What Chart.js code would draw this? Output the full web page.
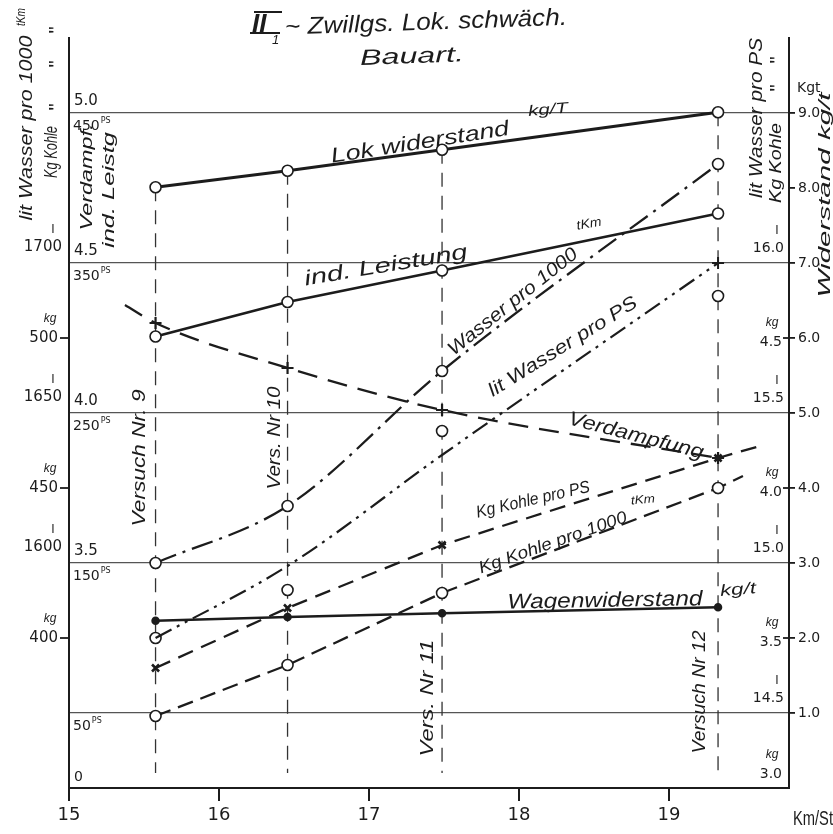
<!DOCTYPE html>
<html>
<head>
<meta charset="utf-8">
<script src="https://cdn.jsdelivr.net/npm/chart.js@4.4.1/dist/chart.umd.min.js"></script>
<style>
  html, body { margin: 0; padding: 0; background: #fff; }
  canvas { display: block; }
</style>
</head>
<body>
<canvas id="chart" width="833" height="834"></canvas>
<script>
/* =======================
   DATA
======================= */

const xTicks = [15, 16, 17, 18, 19];                 // Km/St
const versuchX = [15.577, 16.457, 17.487, 19.327];   // Versuch Nr 9 .. 12
const versuchNames = ["Versuch Nr. 9", "Vers. Nr 10", "Vers. Nr 11", "Versuch Nr 12"];

const lokWiderstand = [8.01, 8.23, 8.51, 9.01];       // kg/t
const wagenWiderstand = [2.23, 2.28, 2.33, 2.41];     // kg/t
const indLeistung = [301, 324, 345, 383];             // PS
const wasser1000 = [1600, 1619, 1664, 1733];          // l pro 1000 tKm
const wasserPsLine = [14.75, 14.99, 15.36, 16.0];     // l pro PS (Ausgleich)
const wasserPsMess = [14.75, 14.91, 15.44, 15.89];    // l pro PS (gemessen)
const verdampfX = [15.373, 15.577, 16.457, 17.487, 19.327];
const verdampfung = [4.36, 4.30, 4.15, 4.01, 3.85];   // kg Wasser / kg Kohle
const kohlePsX = [15.577, 16.457, 17.487, 19.327, 19.607];
const kohlePs = [3.40, 3.60, 3.81, 4.10, 4.14];       // kg pro PS
const kohle1000X = [15.577, 16.457, 17.487, 19.327, 19.493];
const kohle1000 = [374, 391, 415, 450, 454];          // kg pro 1000 tKm

// scale labels
const psLabels = [450, 350, 250, 150, 50];
const verdLabels = [5.0, 4.5, 4.0, 3.5];
const wasser1000Labels = [1700, 1650, 1600];
const kohle1000Labels = [500, 450, 400];
const wasserPsLabels = [16.0, 15.5, 15.0, 14.5];
const kohlePsLabels = [4.5, 4.0, 3.5, 3.0];
const widerstandTicks = [1, 2, 3, 4, 5, 6, 7, 8, 9];

/* =======================
   HELPERS
======================= */

const INK = "#1c1c1c";
const NUM = '"DejaVu Sans", sans-serif';
const HAND = '"Liberation Sans", sans-serif';

function pts(xs, ys) {
  return xs.map((x, i) => ({ x, y: ys[i] }));
}

// handwritten-ish label, squeezed/stretched to width w
function hand(ctx, s, cx, cy, w, size, rot, style, align) {
  ctx.save();
  ctx.font = (style || "italic") + " " + size + "px " + HAND;
  const m = ctx.measureText(s).width;
  ctx.translate(cx, cy);
  ctx.rotate((rot || 0) * Math.PI / 180);
  if (w) ctx.scale(w / m, 1);
  ctx.textAlign = align || "center";
  ctx.textBaseline = "middle";
  ctx.fillStyle = INK;
  ctx.fillText(s, 0, 0);
  ctx.restore();
}

function num(ctx, s, x, y, size, align) {
  ctx.save();
  ctx.font = size + "px " + NUM;
  ctx.textAlign = align || "left";
  ctx.textBaseline = "middle";
  ctx.fillStyle = INK;
  ctx.fillText(s, x, y);
  const w = ctx.measureText(s).width;
  ctx.restore();
  return w;
}

function dash(ctx, x1, x2, y) {
  ctx.save();
  ctx.strokeStyle = INK;
  ctx.lineWidth = 1.8;
  ctx.beginPath(); ctx.moveTo(x1, y); ctx.lineTo(x2, y); ctx.stroke();
  ctx.restore();
}

/* =======================
   TEXT PLUGIN
======================= */

const inkPlugin = {
  id: "ink",
  beforeDraw(chart) {
    const ctx = chart.ctx;
    ctx.save();
    ctx.fillStyle = "#fff";
    ctx.fillRect(0, 0, chart.width, chart.height);
    ctx.restore();
  },
  afterDraw(chart) {
    const ctx = chart.ctx;
    const s = chart.scales;

    // title
    ctx.save();
    ctx.font = "italic bold 26px " + HAND;
    ctx.fillStyle = INK;
    ctx.textBaseline = "alphabetic";
    ctx.fillText("II", 252, 32);
    ctx.fillRect(250, 32, 30, 2);
    ctx.fillRect(254, 11, 28, 2);
    ctx.font = "italic 13px " + HAND;
    ctx.fillText("1", 272, 44);
    ctx.restore();
    hand(ctx, "~ Zwillgs. Lok. schwäch.", 426, 23, 282, 24, -2);
    hand(ctx, "Bauart.", 412, 57, 104, 22, -2);

    // labels along the curves
    hand(ctx, "Lok widerstand", 420, 143, 180, 21, -9);
    hand(ctx, "kg/T", 548, 110, 40, 15, -5);
    hand(ctx, "ind. Leistung", 386, 266, 165, 21, -9.5);
    hand(ctx, "Wasser pro 1000", 513, 302, 160, 19, -38.5);
    hand(ctx, "tKm", 589, 224, 25, 13, -10);
    hand(ctx, "lit Wasser pro PS", 563, 347, 172, 19, -32);
    hand(ctx, "Verdampfung", 636, 436, 139, 20, 14.5);
    hand(ctx, "Kg Kohle pro PS", 533, 500, 116, 17, -13);
    hand(ctx, "Kg Kohle pro 1000", 553, 543, 156, 17, -19.5);
    hand(ctx, "tKm", 643, 500, 24, 12, -5);
    hand(ctx, "Wagenwiderstand", 605, 601, 195, 21, -1);
    hand(ctx, "kg/t", 738, 590, 36, 16, -5);

    // Versuch labels beside the dashed verticals
    const vPos = [[140, 458, 137], [275, 438, 103], [428, 698, 117], [700, 692, 123]];
    versuchNames.forEach((n, i) => {
      hand(ctx, n, vPos[i][0], vPos[i][1], vPos[i][2], 18, -90);
    });

    // left side headings
    hand(ctx, "lit Wasser pro 1000", 27, 128, 185, 19, -90);
    hand(ctx, "tKm", 22, 17, 18, 12, -90);
    hand(ctx, "Kg Kohle", 52, 152, 52, 18, -90);
    [30, 64, 107].forEach(y => hand(ctx, "\"", 57, y, 0, 20, -90, "normal"));
    hand(ctx, "Verdampf.", 88, 177, 107, 16, -90);
    hand(ctx, "ind. Leistg", 110, 190, 116, 16, -90);

    // right side headings
    hand(ctx, "lit Wasser pro PS", 757, 118, 160, 18, -90);
    hand(ctx, "Kg Kohle", 777, 163, 80, 16, -90);
    [60, 88].forEach(y => hand(ctx, "\"", 778, y, 0, 20, -90, "normal"));
    num(ctx, "Kgt", 797, 88, 14);
    hand(ctx, "Widerstand kg/t", 825, 195, 205, 17, -90);
    hand(ctx, "Km/St", 813, 819, 40, 20, 0, "normal");

    // left inner scales: Verdampfung and PS
    verdLabels.forEach(v => {
      num(ctx, v.toFixed(1), 74, s.yVerd.getPixelForValue(v) - 12, 15);
    });
    psLabels.forEach(v => {
      const y = s.yPS.getPixelForValue(v) + 13;
      const w = num(ctx, String(v), 73, y, 14);
      num(ctx, "PS", 74 + w, y - 5, 8);
    });
    num(ctx, "0", 74, s.yPS.getPixelForValue(0) - 11, 14);

    // left outer scales: Wasser (l) and Kohle (kg) pro 1000 tKm
    wasser1000Labels.forEach(v => {
      const y = s.yWasser1000.getPixelForValue(v);
      num(ctx, String(v), 62, y - 16, 15, "right");
      hand(ctx, "l", 53, y - 34, 0, 13, 0, "normal");
    });
    kohle1000Labels.forEach(v => {
      const y = s.yKohle1000.getPixelForValue(v);
      num(ctx, String(v), 58, y, 15, "right");
      hand(ctx, "kg", 50, y - 19, 0, 12, 0, "italic");
      dash(ctx, 60, 70, y);
    });

    // right inner scales: Wasser (l) and Kohle (kg) pro PS
    wasserPsLabels.forEach(v => {
      const y = s.yWasserPS.getPixelForValue(v);
      num(ctx, v.toFixed(1), 784, y - 15, 14, "right");
      hand(ctx, "l", 777, y - 33, 0, 13, 0, "normal");
    });
    kohlePsLabels.forEach(v => {
      const y = s.yKohlePS.getPixelForValue(v);
      const ly = v === 3.0 ? y - 14 : y + 4;
      num(ctx, v.toFixed(1), 782, ly, 14, "right");
      hand(ctx, "kg", 772, ly - 19, 0, 12, 0, "italic");
      if (v !== 3.0) dash(ctx, 783, 790, y);
    });
  }
};

/* =======================
   DATASETS
======================= */

const circle = {
  pointStyle: "circle",
  pointRadius: 5.5,
  pointBackgroundColor: "#fff",
  pointBorderColor: INK,
  pointBorderWidth: 1.6
};

const versuchLines = versuchX.map((x, i) => ({
  data: [{ x, y: lokWiderstand[i] }, { x, y: 0.2 }],
  yAxisID: "yW",
  borderColor: "#333",
  borderWidth: 1.3,
  borderDash: [14, 9],
  pointRadius: 0,
  order: 20
}));

const datasets = [
  {
    label: "Lok widerstand",
    data: pts(versuchX, lokWiderstand),
    yAxisID: "yW",
    borderColor: INK, borderWidth: 2.8,
    ...circle
  },
  {
    label: "ind. Leistung",
    data: pts(versuchX, indLeistung),
    yAxisID: "yPS",
    borderColor: INK, borderWidth: 2.8,
    ...circle
  },
  {
    label: "Wasser pro 1000 tKm",
    data: pts(versuchX, wasser1000),
    yAxisID: "yWasser1000",
    borderColor: INK, borderWidth: 2.3,
    borderDash: [22, 7, 3, 7],
    cubicInterpolationMode: "monotone",
    ...circle
  },
  {
    label: "lit Wasser pro PS",
    data: pts(versuchX, wasserPsLine),
    yAxisID: "yWasserPS",
    borderColor: INK, borderWidth: 2.2,
    borderDash: [18, 6, 3, 6, 3, 6],
    cubicInterpolationMode: "monotone",
    pointStyle: "cross",
    pointRadius: [0, 0, 0, 6],
    pointBorderColor: INK,
    pointBorderWidth: 2
  },
  {
    label: "lit Wasser pro PS gemessen",
    data: pts(versuchX, wasserPsMess),
    yAxisID: "yWasserPS",
    showLine: false,
    ...circle
  },
  {
    label: "Verdampfung",
    data: pts(verdampfX, verdampfung),
    yAxisID: "yVerd",
    borderColor: INK, borderWidth: 2.3,
    borderDash: [20, 11],
    cubicInterpolationMode: "monotone",
    pointStyle: "cross",
    pointRadius: [0, 6, 6, 6, 6],
    pointBorderColor: INK,
    pointBorderWidth: 2.2
  },
  {
    label: "Kg Kohle pro PS",
    data: pts(kohlePsX, kohlePs),
    yAxisID: "yKohlePS",
    borderColor: INK, borderWidth: 2.3,
    borderDash: [16, 9],
    pointStyle: "crossRot",
    pointRadius: [5, 5, 5, 5, 0],
    pointBorderColor: INK,
    pointBorderWidth: 2.6
  },
  {
    label: "Kg Kohle pro 1000 tKm",
    data: pts(kohle1000X, kohle1000),
    yAxisID: "yKohle1000",
    borderColor: INK, borderWidth: 2.3,
    borderDash: [16, 8],
    ...circle,
    pointRadius: [5.5, 5.5, 5.5, 5.5, 0]
  },
  {
    label: "Wagenwiderstand",
    data: pts(versuchX, wagenWiderstand),
    yAxisID: "yW",
    borderColor: INK, borderWidth: 2.5,
    pointStyle: "circle",
    pointRadius: 3,
    pointBackgroundColor: INK,
    pointBorderColor: INK
  },
  ...versuchLines
];

/* =======================
   CHART
======================= */

const hidden = (min, max) => ({ type: "linear", display: false, min, max });

new Chart(document.getElementById("chart"), {
  type: "line",
  data: { datasets },
  plugins: [inkPlugin],
  options: {
    responsive: false,
    animation: false,
    layout: { padding: { top: 38, left: 0, right: 0, bottom: 0 } },
    plugins: { legend: { display: false }, tooltip: { enabled: false } },
    scales: {
      x: {
        type: "linear",
        min: 15, max: 19.8,
        afterBuildTicks: sc => { sc.ticks = xTicks.map(v => ({ value: v })); },
        afterFit: sc => { sc.height = 46; },
        ticks: { color: INK, font: { family: NUM, size: 18 }, padding: 4 },
        grid: { drawOnChartArea: false, drawTicks: true, tickLength: 13, color: INK, lineWidth: 2 },
        border: { display: true, color: INK, width: 2 }
      },
      yPS: {
        type: "linear",
        position: "left",
        min: 0, max: 500,
        afterBuildTicks: sc => { sc.ticks = [0, 50, 150, 250, 350, 450].map(v => ({ value: v })); },
        afterFit: sc => { sc.width = 69; },
        ticks: { display: false },
        grid: { drawTicks: false, color: "#555", lineWidth: 1.3 },
        border: { display: true, color: INK, width: 2 }
      },
      yW: {
        type: "linear",
        position: "right",
        min: 0, max: 10,
        afterBuildTicks: sc => { sc.ticks = widerstandTicks.map(v => ({ value: v })); },
        afterFit: sc => { sc.width = 44; },
        ticks: {
          color: INK, font: { family: NUM, size: 14 }, padding: 3,
          callback: v => v.toFixed(1)
        },
        grid: { drawOnChartArea: false, drawTicks: true, tickLength: 6, color: INK, lineWidth: 1.8 },
        border: { display: true, color: INK, width: 2 }
      },
      yWasser1000: hidden(1525, 1775),
      yVerd: hidden(2.75, 5.25),
      yKohle1000: hidden(350, 600),
      yWasserPS: hidden(14.25, 16.75),
      yKohlePS: hidden(3.0, 5.5)
    }
  }
});
</script>
</body>
</html>
